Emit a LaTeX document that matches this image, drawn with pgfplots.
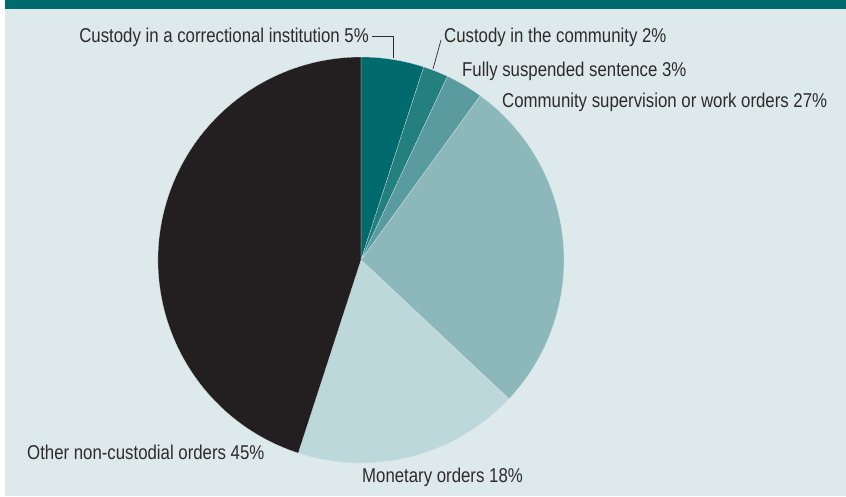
\documentclass[border=0pt]{standalone}
\usepackage{fontspec}
\setmainfont{Liberation Sans}[FakeStretch=0.84]
\usepackage{pgfplots}
\usepackage{pgfplotstable}
\pgfplotsset{compat=1.18}

\definecolor{bgpanel}{HTML}{DDE9EA}
\definecolor{header}{HTML}{006A6E}
\definecolor{txt}{HTML}{2E2B2C}
\definecolor{slice0}{HTML}{006A6E}
\definecolor{slice1}{HTML}{24807F}
\definecolor{slice2}{HTML}{5A9BA0}
\definecolor{slice3}{HTML}{8DB8BB}
\definecolor{slice4}{HTML}{BDD8DA}
\definecolor{slice5}{HTML}{231F20}

% sentence shares, clockwise from 12 o'clock
\pgfplotstableread[col sep=comma]{
label,value
Custody in a correctional institution,5
Custody in the community,2
Fully suspended sentence,3
Community supervision or work orders,27
Monetary orders,18
Other non-custodial orders,45
}\pietable

\tikzset{lab/.style={text=txt, font=\fontsize{20}{23}\selectfont, inner sep=0pt}}

\begin{document}
\begin{tikzpicture}
% start/end angle of each slice
\def\cum{0}
\pgfplotsforeachungrouped \i in {0,...,5}{%
  \pgfplotstablegetelem{\i}{value}\of\pietable
  \pgfmathsetmacro\sa{90-3.6*\cum}%
  \pgfmathsetmacro\cum{\cum+\pgfplotsretval}%
  \pgfmathsetmacro\ea{90-3.6*\cum}%
  \expandafter\xdef\csname pieS\i\endcsname{\sa}%
  \expandafter\xdef\csname pieE\i\endcsname{\ea}%
}
\begin{axis}[
  width=846pt, height=497pt, scale only axis,
  xmin=0, xmax=846, ymin=0, ymax=497, y dir=reverse,
  hide axis, clip=false,
]
\fill[white] (axis cs:0,0) rectangle (axis cs:846,497);
\fill[bgpanel] (axis cs:5,0) rectangle (axis cs:846,496);
\fill[header] (axis cs:5,0) rectangle (axis cs:846,9);

\pgfplotsinvokeforeach{0,...,5}{
  \fill[slice#1, draw=bgpanel, line width=0.2pt]
    (axis cs:361,260) -- ++(\csname pieS#1\endcsname:203pt)
    arc[start angle=\csname pieS#1\endcsname, end angle=\csname pieE#1\endcsname, radius=203pt] -- cycle;
}

% labels and leader lines
\node[lab, anchor=east] at (axis cs:369,37) {Custody in a correctional institution 5\%};
\draw[txt, line width=0.7pt] (axis cs:372,36) -- (axis cs:393,36) -- (axis cs:393,58);
\node[lab, anchor=west] at (axis cs:444,37) {Custody in the community 2\%};
\draw[txt, line width=0.7pt] (axis cs:441,40) -- (axis cs:433,69);
\node[lab, anchor=west] at (axis cs:462,71) {Fully suspended sentence 3\%};
\node[lab, anchor=west] at (axis cs:502,102) {Community supervision or work orders 27\%};
\node[lab, anchor=west] at (axis cs:27,452) {Other non-custodial orders 45\%};
\node[lab, anchor=west] at (axis cs:362,477) {Monetary orders 18\%};
\end{axis}
\end{tikzpicture}
\end{document}
